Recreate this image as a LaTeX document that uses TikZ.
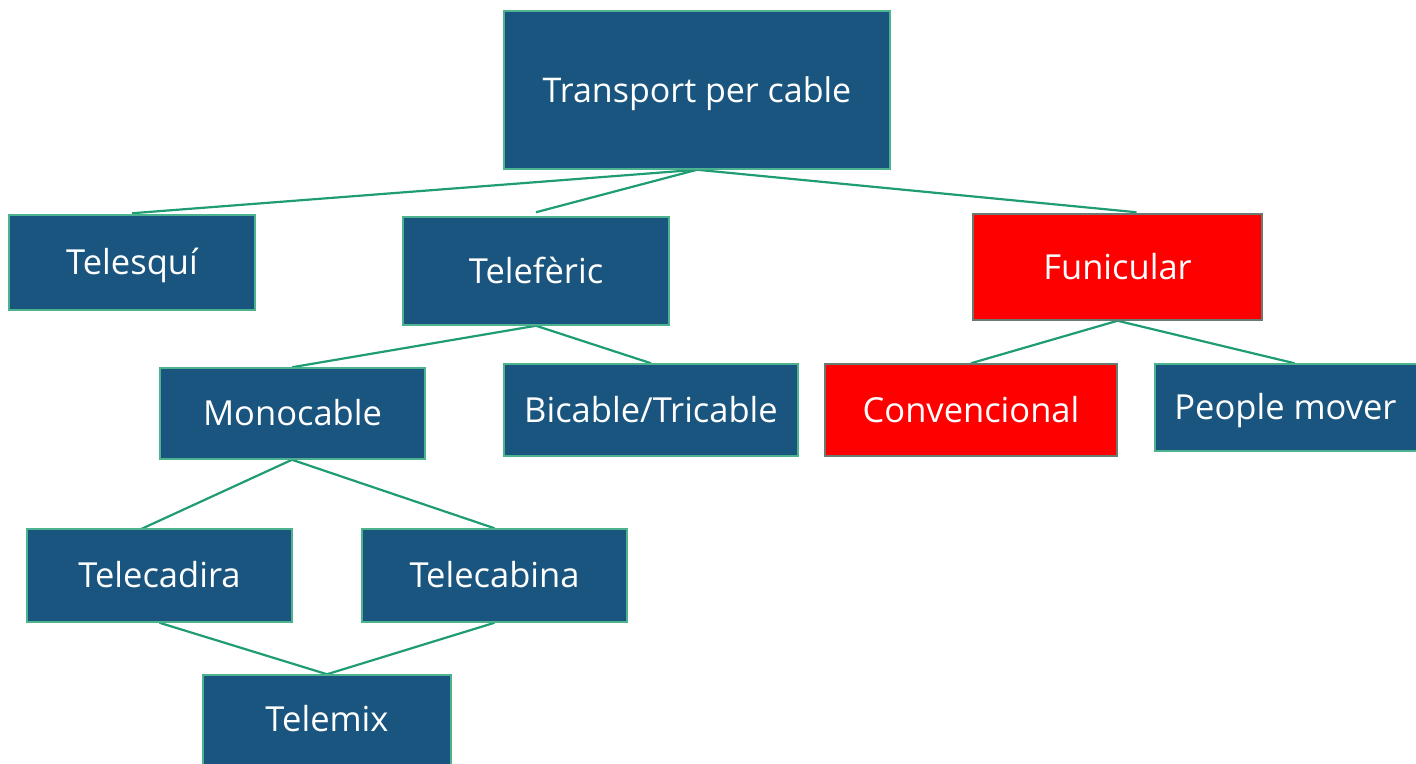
\documentclass[tikz,border=0pt]{standalone}
\usepackage{fontspec}
\setmainfont{Open Sans}
\usetikzlibrary{calc,backgrounds}
\definecolor{boxblue}{HTML}{1A5580}
\definecolor{boxedge}{HTML}{4DB38E}
\definecolor{linkgreen}{HTML}{1F9C74}
\definecolor{redfill}{HTML}{FF0000}
\definecolor{rededge}{HTML}{6A7A6E}
\tikzset{
  bx/.style={draw=boxedge, line width=1.5pt, fill=boxblue, text=white, inner sep=0pt,
    font=\fontsize{34.5}{40}\selectfont, text height=26pt, text depth=2pt},
  rbx/.style={bx, draw=rededge, fill=redfill},
  link/.style={draw=linkgreen, line width=2.2pt},
}
\newcommand{\boxat}[7]{% style, name, l, t, r, b, text
  \node[#1, minimum width={#5-#3}, minimum height={#6-#4}] (#2) at ({(#3+#5)/2},{(#4+#6)/2}) {#7};}
\begin{document}
\begin{tikzpicture}[x=1pt,y=-1pt]
\useasboundingbox (0,0) rectangle (1416,763);
\boxat{bx}{top}{504}{11}{890}{169}{\fontsize{34}{40}\selectfont Transport per cable}
\boxat{bx}{telesqui}{9}{215}{255}{310}{Telesquí}
\boxat{bx}{teleferic}{403}{217}{669}{325}{Telefèric}
\boxat{rbx}{funicular}{973}{214}{1262}{320}{Funicular}
\boxat{bx}{monocable}{160}{368}{425}{459}{Monocable}
\boxat{bx}{bicable}{504}{364}{798}{456}{Bicable/Tricable}
\boxat{rbx}{convencional}{825}{364}{1117}{456}{Convencional}
\boxat{bx}{people}{1155}{364}{1424}{451}{\hspace*{-8pt}People mover}
\boxat{bx}{telecadira}{27}{529}{292}{622}{Telecadira}
\boxat{bx}{telecabina}{362}{529}{627}{622}{Telecabina}
\boxat{bx}{telemix}{203}{675}{451}{770}{\raisebox{3pt}{Telemix}}
\coordinate (eTelesqui) at ($(telesqui.north)+(0,-1)$);
\coordinate (eTeleferic) at ($(teleferic.north)+(0,-4)$);
\coordinate (eFunicular) at ($(funicular.north)+(19,-1)$);
\coordinate (eMono) at ($(monocable.north)+(-0.5,0)$);
\coordinate (ePeople) at ($(people.north)+(5,0)$);
\coordinate (eCadira) at ($(telecadira.north)+(-21,2)$);
\coordinate (sMonoA) at ($(monocable.south)+(-0.5,0)$);
\begin{pgfonlayer}{background}
\draw[link] (top.south) -- (eTelesqui);
\draw[link] (top.south) -- (eTeleferic);
\draw[link] (top.south) -- (eFunicular);
\draw[link] (teleferic.south) -- (eMono);
\draw[link] (teleferic.south) -- (bicable.north);
\draw[link] (funicular.south) -- (convencional.north);
\draw[link] (funicular.south) -- (ePeople);
\draw[link] (sMonoA) -- (eCadira);
\draw[link] (sMonoA) -- (telecabina.north);
\draw[link] (telecadira.south) -- (telemix.north);
\draw[link] (telecabina.south) -- (telemix.north);
\end{pgfonlayer}
\end{tikzpicture}
\end{document}
